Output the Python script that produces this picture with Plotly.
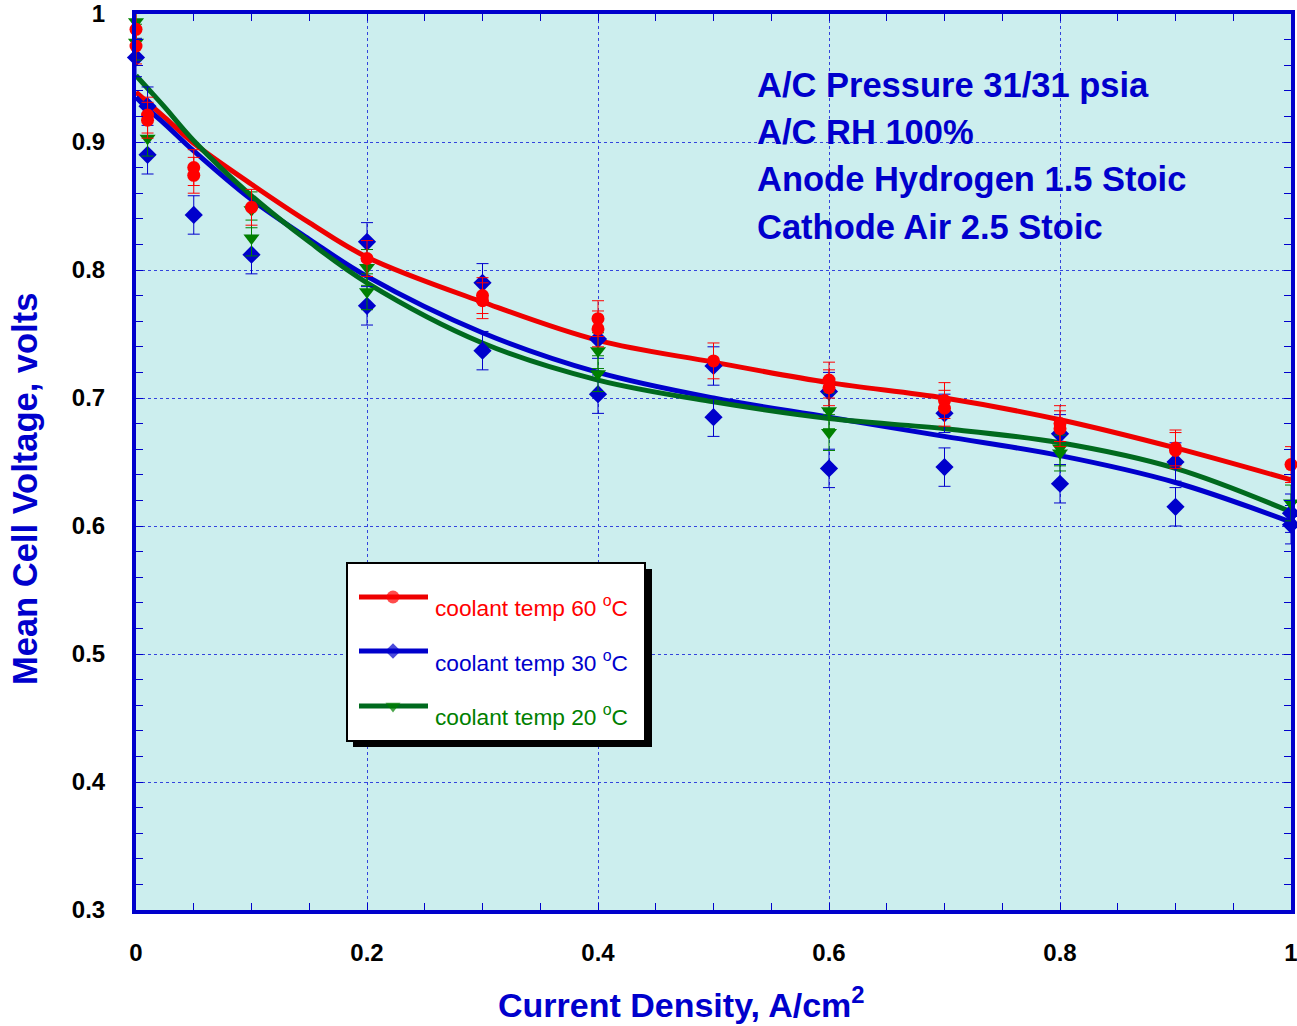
import plotly.graph_objects as go

# Measured mean cell voltage (V) vs current density (A/cm^2); repeated runs share an x value
x60 = [0, 0, 0.01, 0.01, 0.05, 0.05, 0.1, 0.2, 0.3, 0.3, 0.4, 0.4, 0.5, 0.6, 0.6,
       0.7, 0.7, 0.8, 0.8, 0.9, 0.9, 1.0]
v60 = [0.988, 0.975, 0.921, 0.917, 0.880, 0.874, 0.849, 0.809, 0.780, 0.776, 0.762,
       0.754, 0.729, 0.714, 0.708, 0.698, 0.692, 0.680, 0.676, 0.661, 0.659, 0.648]
e60 = 0.014

x30 = [0, 0.01, 0.01, 0.05, 0.1, 0.2, 0.2, 0.3, 0.3, 0.4, 0.4, 0.5, 0.5, 0.6, 0.6,
       0.7, 0.7, 0.8, 0.8, 0.9, 0.9, 1.0, 1.0]
v30 = [0.966, 0.928, 0.890, 0.843, 0.812, 0.822, 0.772, 0.790, 0.737, 0.746, 0.703,
       0.725, 0.685, 0.705, 0.645, 0.688, 0.646, 0.672, 0.633, 0.650, 0.615, 0.610, 0.601]
e30 = 0.015

x20 = [0, 0, 0.01, 0.1, 0.1, 0.2, 0.2, 0.4, 0.4, 0.6, 0.6, 0.8, 0.8, 1.0]
v20 = [0.994, 0.978, 0.903, 0.847, 0.825, 0.802, 0.783, 0.737, 0.719, 0.690, 0.673,
       0.661, 0.657, 0.618]
e20 = 0.014

# Fitted polarization curves
x_fit = [0, 0.01, 0.025, 0.05, 0.1, 0.15, 0.2, 0.3, 0.4, 0.5, 0.6, 0.7, 0.8, 0.9, 1.0]
fit60 = [0.939, 0.931, 0.919, 0.899, 0.867, 0.837, 0.810, 0.775, 0.745, 0.728, 0.712,
         0.700, 0.683, 0.661, 0.636]
fit30 = [0.935, 0.926, 0.914, 0.893, 0.855, 0.824, 0.795, 0.751, 0.720, 0.700, 0.685,
         0.670, 0.655, 0.634, 0.603]
fit20 = [0.952, 0.942, 0.927, 0.901, 0.858, 0.822, 0.790, 0.743, 0.714, 0.697, 0.684,
         0.676, 0.665, 0.645, 0.611]

series_names = ["coolant temp 60 <sup>o</sup>C", "coolant temp 30 <sup>o</sup>C",
                "coolant temp 20 <sup>o</sup>C"]
conditions = ["A/C Pressure 31/31 psia", "A/C RH 100%",
              "Anode Hydrogen 1.5 Stoic", "Cathode Air 2.5 Stoic"]

RED, BLUE, GREEN_M, GREEN_L = "#FF0000", "#0000CC", "#008000", "#006A1E"
AXIS = "#0000CC"
FONT = "Arial, Liberation Sans, sans-serif"

W, H = 1297, 1026
L, R, T, B = 136, 6, 14, 116
PW, PH = W - L - R, H - T - B
X_RANGE = [0, 1]
Y_RANGE = [0.3, 1.0]


def px(xp):
    """pixel column -> paper fraction"""
    return (xp - L) / PW


def py(yp):
    """pixel row -> paper fraction"""
    return (H - B - yp) / PH


def dx(xp):
    """pixel column -> x data value"""
    return X_RANGE[0] + px(xp) * (X_RANGE[1] - X_RANGE[0])


def dy(yp):
    """pixel row -> y data value"""
    return Y_RANGE[0] + py(yp) * (Y_RANGE[1] - Y_RANGE[0])


fig = go.Figure()

# fitted curves
for xs, ys, col in [(x_fit, fit60, "#EE0000"), (x_fit, fit30, BLUE), (x_fit, fit20, GREEN_L)]:
    fig.add_trace(go.Scatter(x=xs, y=ys, mode="lines", line=dict(color=col, width=5, shape="spline"),
                             showlegend=False, hoverinfo="skip", cliponaxis=False))

# measured points with error bars
specs = [
    (x30, v30, e30, BLUE, "diamond", 14),
    (x20, v20, e20, GREEN_M, "triangle-down", 14),
    (x60, v60, e60, RED, "circle", 13),
]
for xs, ys, err, col, sym, sz in specs:
    fig.add_trace(go.Scatter(
        x=xs, y=ys, mode="markers",
        marker=dict(color=col, symbol=sym, size=sz, line=dict(width=0)),
        error_y=dict(type="constant", value=err, color=col, thickness=1, width=6),
        showlegend=False, cliponaxis=False))

# boxed key with drop shadow, placed in pixel space
leg_rows = [(597, RED, "circle", 13, "#EE0000", RED),
            (651, BLUE, "diamond", 12, BLUE, BLUE),
            (706, GREEN_M, "triangle-down", 13, GREEN_L, GREEN_M)]
shapes = [
    dict(type="rect", xref="x", yref="y", x0=dx(353), x1=dx(652), y0=dy(569), y1=dy(747),
         fillcolor="black", line=dict(width=0), layer="between"),
    dict(type="rect", xref="x", yref="y", x0=dx(347), x1=dx(645), y0=dy(563), y1=dy(741),
         fillcolor="white", line=dict(color="black", width=2), layer="between"),
]
for yy, mcol, sym, sz, lcol, tcol in leg_rows:
    shapes.append(dict(type="line", xref="x", yref="y", x0=dx(359), x1=dx(428),
                       y0=dy(yy), y1=dy(yy), line=dict(color=lcol, width=5), layer="between"))
fig.add_trace(go.Scatter(
    x=[dx(393)] * 3, y=[dy(r[0]) for r in leg_rows], mode="markers",
    marker=dict(color=[r[1] for r in leg_rows], symbol=[r[2] for r in leg_rows],
                size=[r[3] for r in leg_rows], line=dict(width=0)),
    showlegend=False, hoverinfo="skip", cliponaxis=False))

annotations = []
for (yy, mcol, sym, sz, lcol, tcol), name, ty in zip(leg_rows, series_names, [606, 661, 715]):
    annotations.append(dict(text=name, xref="paper", yref="paper", x=px(433), y=py(ty),
                            xanchor="left", yanchor="middle", showarrow=False,
                            font=dict(family=FONT, size=22.7, color=tcol)))

for line, ty in zip(conditions, [85, 132, 178.5, 226.5]):
    annotations.append(dict(text=line, xref="paper", yref="paper", x=px(755), y=py(ty),
                            xanchor="left", yanchor="middle", showarrow=False,
                            font=dict(family=FONT, size=34.5, color=AXIS, weight="bold")))

annotations.append(dict(text="Current Density, A/cm<sup>2</sup>", xref="paper", yref="paper",
                        x=px(681), y=py(1002), xanchor="center", yanchor="middle",
                        showarrow=False, font=dict(family=FONT, size=34, color=AXIS, weight="bold")))
annotations.append(dict(text="Mean Cell Voltage, volts", xref="paper", yref="paper",
                        x=px(25), y=py(489), xanchor="center", yanchor="middle", textangle=-90,
                        showarrow=False, font=dict(family=FONT, size=34.5, color=AXIS, weight="bold")))

axis_common = dict(
    showline=True, linecolor=AXIS, linewidth=4, mirror="allticks",
    ticks="inside", ticklen=7, tickcolor=AXIS, tickwidth=1,
    showgrid=True, gridcolor="#3344DD", gridwidth=1, griddash="dot",
    zeroline=False, automargin=False, ticklabeloverflow="allow",
    tickfont=dict(family=FONT, size=24, color="black", weight="bold"),
)

fig.update_layout(
    template="none",
    width=W, height=H,
    margin=dict(l=L, r=R, t=T, b=B, pad=0),
    paper_bgcolor="white", plot_bgcolor="#CCEEEE",
    showlegend=False,
    xaxis=dict(range=X_RANGE, dtick=0.2, tick0=0, ticklabelstandoff=18,
               minor=dict(dtick=0.05, ticks="inside", ticklen=7, tickcolor=AXIS, showgrid=False),
               **axis_common),
    yaxis=dict(range=Y_RANGE, dtick=0.1, tick0=0.3, ticklabelstandoff=22,
               minor=dict(dtick=0.02, ticks="inside", ticklen=7, tickcolor=AXIS, showgrid=False),
               **axis_common),
    shapes=shapes,
    annotations=annotations,
)

fig.write_html("out.html")
